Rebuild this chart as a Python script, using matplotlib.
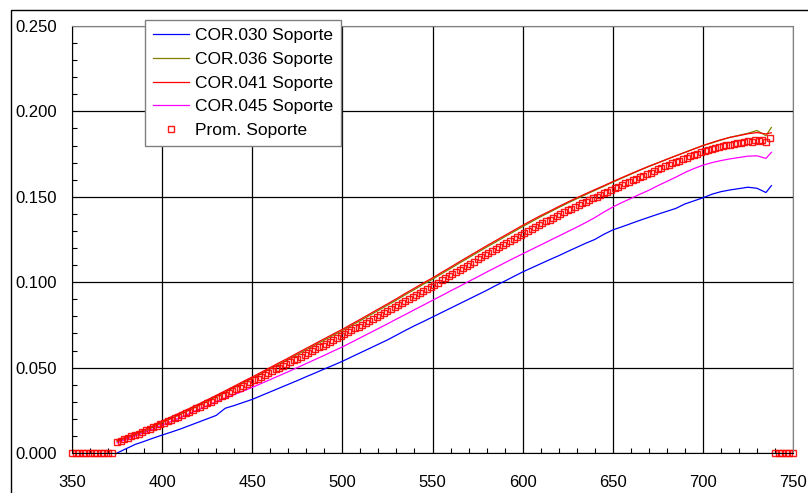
import numpy as np
import matplotlib
matplotlib.use("Agg")
import matplotlib.pyplot as plt
from matplotlib.patches import Rectangle
from matplotlib.ticker import MultipleLocator, FormatStrFormatter

plt.rcParams['font.family'] = ['Liberation Sans', 'DejaVu Sans']

# wavelength (nm) for the sample curves, 5 nm steps
wl = list(range(375, 736, 5)) + [738]

cor030 = [.0000, .0025, .0050, .0068, .0087, .0105, .0122, .0140, .0160, .0180,
          .0200, .0220, .0262, .0278, .0296, .0314, .0336, .0358, .0380, .0402,
          .0424, .0447, .0469, .0492, .0514, .0537, .0562, .0587, .0612, .0637,
          .0662, .0690, .0718, .0745, .0770, .0796, .0822, .0848, .0874, .0900,
          .0926, .0952, .0980, .1006, .1033, .1060, .1084, .1108, .1132, .1155,
          .1180, .1204, .1228, .1250, .1280, .1306, .1324, .1343, .1362, .1380,
          .1398, .1415, .1432, .1458, .1476, .1494, .1515, .1530, .1540, .1548,
          .1556, .1550, .1525, .1565]

cor036 = [.0068, .0086, .0106, .0128, .0151, .0177, .0202, .0226, .0251, .0277,
          .0303, .0329, .0356, .0383, .0411, .0437, .0465, .0493, .0521, .0548,
          .0577, .0605, .0633, .0661, .0689, .0716, .0746, .0775, .0805, .0835,
          .0865, .0895, .0927, .0957, .0988, .1017, .1049, .1080, .1112, .1143,
          .1174, .1205, .1235, .1265, .1295, .1325, .1354, .1383, .1410, .1437,
          .1463, .1488, .1513, .1537, .1561, .1585, .1609, .1632, .1655, .1677,
          .1698, .1719, .1740, .1760, .1780, .1800, .1815, .1832, .1848, .1860,
          .1872, .1888, .1858, .1906]

cor041 = [.0073, .0093, .0114, .0135, .0159, .0187, .0211, .0235, .0260, .0285,
          .0311, .0337, .0364, .0391, .0419, .0445, .0473, .0501, .0529, .0556,
          .0585, .0613, .0641, .0669, .0697, .0724, .0754, .0783, .0813, .0843,
          .0873, .0903, .0935, .0965, .0996, .1025, .1057, .1088, .1120, .1151,
          .1182, .1213, .1243, .1273, .1303, .1333, .1362, .1390, .1416, .1443,
          .1469, .1494, .1518, .1542, .1565, .1589, .1612, .1635, .1657, .1679,
          .1699, .1720, .1740, .1760, .1780, .1800, .1818, .1834, .1848, .1858,
          .1869, .1876, .1868, .1875]

cor045 = [.0060, .0080, .0100, .0120, .0141, .0163, .0185, .0207, .0230, .0253,
          .0276, .0300, .0321, .0342, .0363, .0384, .0407, .0430, .0453, .0476,
          .0500, .0524, .0548, .0572, .0597, .0621, .0648, .0675, .0702, .0729,
          .0756, .0784, .0811, .0839, .0866, .0894, .0921, .0949, .0976, .1004,
          .1031, .1059, .1086, .1113, .1140, .1166, .1192, .1218, .1244, .1270,
          .1296, .1322, .1349, .1378, .1410, .1440, .1466, .1490, .1515, .1538,
          .1565, .1590, .1615, .1642, .1665, .1685, .1700, .1712, .1722, .1730,
          .1738, .1740, .1725, .1760]

# average curve, 2 nm steps, plus the zero stretches at both ends
wl_prom = list(range(350, 374, 2)) + list(range(375, 738, 2)) + list(range(740, 751, 2))
prom = [0.0] * 12 + [
    .0065, .0073, .0081,
    .0089, .0098, .0106, .0114, .0123, .0132, .0141, .0150, .0159, .0168,
    .0177, .0186, .0195, .0204, .0213, .0223, .0232, .0242, .0252, .0261,
    .0271, .0281, .0291, .0301, .0311, .0321, .0331, .0342, .0352, .0362,
    .0372, .0383, .0394, .0404, .0415, .0425, .0436, .0447, .0457, .0468,
    .0478, .0489, .0500, .0510, .0521, .0531, .0542, .0553, .0564, .0575,
    .0585, .0596, .0607, .0618, .0629, .0640, .0651, .0662, .0673, .0684,
    .0695, .0706, .0718, .0729, .0740, .0752, .0763, .0775, .0786, .0797,
    .0809, .0820, .0832, .0844, .0855, .0867, .0879, .0891, .0902, .0914,
    .0926, .0938, .0950, .0962, .0974, .0986, .0998, .1011, .1023, .1035,
    .1047, .1059, .1072, .1084, .1096, .1108, .1120, .1133, .1145, .1157,
    .1169, .1181, .1193, .1205, .1217, .1229, .1241, .1253, .1265, .1277,
    .1289, .1300, .1312, .1323, .1334, .1345, .1356, .1367, .1378, .1389,
    .1399, .1410, .1420, .1430, .1441, .1451, .1461, .1471, .1481, .1491,
    .1501, .1510, .1520, .1530, .1539, .1549, .1558, .1568, .1578, .1587,
    .1597, .1606, .1615, .1624, .1633, .1642, .1651, .1660, .1669, .1678,
    .1686, .1695, .1703, .1711, .1720, .1728, .1736, .1745, .1753, .1761,
    .1768, .1774, .1780, .1786, .1792, .1797, .1801, .1805, .1809, .1813,
    .1817, .1820, .1829, .1822, .1834, .1826, .1834, .1822, .1845] + [0.0] * 6

labels = ['COR.030 Soporte', 'COR.036 Soporte', 'COR.041 Soporte',
          'COR.045 Soporte', 'Prom. Soporte']

fig = plt.figure(figsize=(8.08, 4.93), dpi=100)
ax = fig.add_axes([72 / 808, 1 - 453 / 493, 721 / 808, 427 / 493])

ax.plot(wl, cor030, color='#0000ff', lw=0.9, label=labels[0])
ax.plot(wl, cor036, color='#808000', lw=0.9, label=labels[1])
ax.plot(wl, cor041, color='#ff0000', lw=0.9, label=labels[2])
ax.plot(wl, cor045, color='#ff00ff', lw=0.9, label=labels[3])
ax.plot(wl_prom, prom, ls='none', marker='s', ms=5, mfc='none',
        mec='#ff0000', mew=1.0, alpha=0.9, label=labels[4], clip_on=False)

ax.set_xlim(350, 750)
ax.set_ylim(0, 0.25)
ax.xaxis.set_major_locator(MultipleLocator(50))
ax.xaxis.set_minor_locator(MultipleLocator(10))
ax.yaxis.set_major_locator(MultipleLocator(0.05))
ax.yaxis.set_minor_locator(MultipleLocator(0.01))
ax.yaxis.set_major_formatter(FormatStrFormatter('%.3f'))
ax.grid(True, which='major', color='black', lw=0.9)
ax.tick_params(which='major', length=0, labelsize=12)
ax.tick_params(axis='x', which='major', pad=16)
ax.tick_params(axis='y', which='major', pad=11)
ax.tick_params(which='minor', direction='in', length=3.6, width=0.8)
for side in ['top', 'right']:
    ax.spines[side].set_color('#808080')

leg = ax.legend(loc='upper left', bbox_to_anchor=(145 / 808, 1 - 20 / 493),
                bbox_transform=fig.transFigure, borderaxespad=0, fontsize=12.5,
                numpoints=1, handlelength=2.1, handletextpad=0.35,
                labelspacing=0.5, borderpad=0.45, fancybox=False,
                framealpha=1, edgecolor='#808080')
leg.get_frame().set_linewidth(1)
leg.legend_handles[4].set_markersize(4)

# outer frame of the sheet
fig.patches.append(Rectangle((11 / 808, -0.1), 1.2, 1.1 - 10 / 493,
                             transform=fig.transFigure, fill=False,
                             ec='black', lw=1))

fig.savefig('out.png', dpi=100)
